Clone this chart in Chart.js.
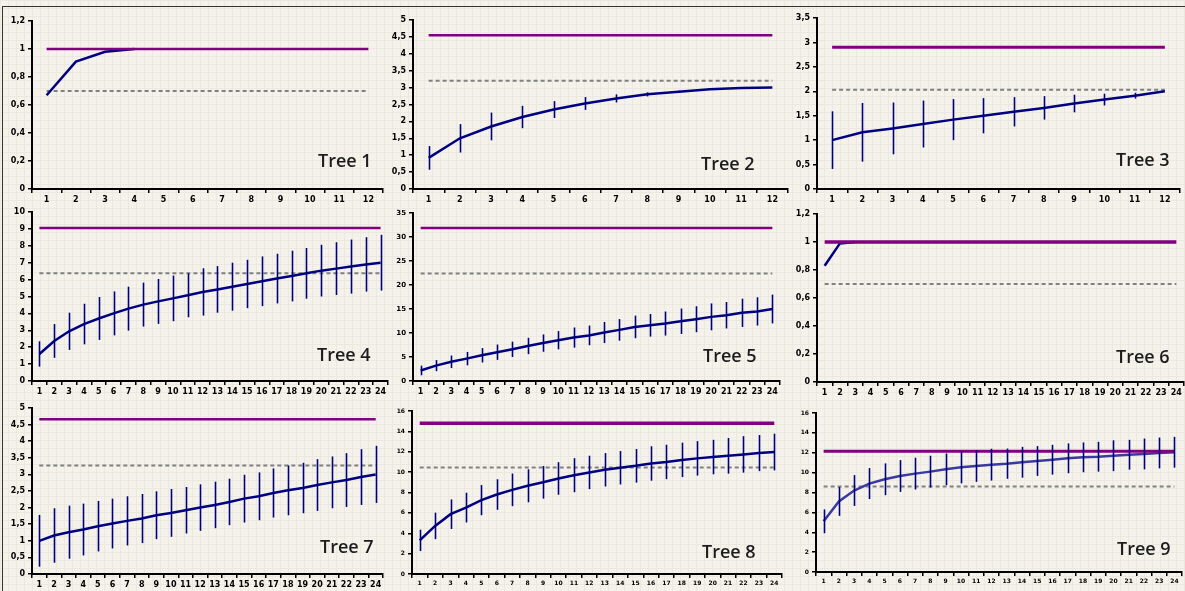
<!DOCTYPE html>
<html>
<head>
<meta charset="utf-8">
<script src="https://cdn.jsdelivr.net/npm/chart.js@4/dist/chart.umd.min.js"></script>
<style>
  html, body { margin: 0; padding: 0; }
  body {
    width: 1185px; height: 591px; position: relative; overflow: hidden;
    background-color: #f4f2eb;
    background-image:
      linear-gradient(#ebe8e0 1px, transparent 1px),
      linear-gradient(90deg, #ebe8e0 1px, transparent 1px);
    background-size: 8px 8px;
  }
  #frame { position: absolute; left: 2px; top: 6px; width: 1190px; height: 600px;
           border-top: 1px solid #333; border-left: 1px solid #333; }
  canvas { position: absolute; }
  .tree { position: absolute; font: 600 18px "Open Sans", sans-serif; line-height: 18px;
          color: #1c1c1c; white-space: nowrap; }
</style>
</head>
<body>
<div id="frame"></div>

<script>
// tick labels
const cats12 = ['1','2','3','4','5','6','7','8','9','10','11','12'];
const cats24 = ['1','2','3','4','5','6','7','8','9','10','11','12',
                '13','14','15','16','17','18','19','20','21','22','23','24'];

// mean curves (null = not drawn)
const tree1Mean = [0.67, 0.91, 0.98, 1.0, null, null, null, null, null, null, null, null];
const tree2Mean = [0.92, 1.5, 1.85, 2.13, 2.35, 2.53, 2.68, 2.8, 2.88, 2.95, 2.99, 3.0];
const tree3Mean = [1.0, 1.16, 1.24, 1.33, 1.42, 1.5, 1.58, 1.66, 1.75, 1.83, 1.91, 2.0];
const tree4Mean = [1.6, 2.37, 2.94, 3.37, 3.7, 4.0, 4.28, 4.52, 4.71, 4.89, 5.07, 5.27,
                   5.42, 5.58, 5.74, 5.9, 6.06, 6.21, 6.37, 6.53, 6.65, 6.77, 6.9, 7.0];
const tree5Mean = [2.2, 3.2, 4.0, 4.66, 5.36, 6.0, 6.6, 7.3, 7.9, 8.5, 9.05, 9.5,
                   10.1, 10.65, 11.27, 11.6, 11.97, 12.45, 12.87, 13.36, 13.7, 14.2, 14.5, 15.0];
const tree6Mean = [0.83, 0.99, 1.0, null, null, null, null, null, null, null, null, null,
                   null, null, null, null, null, null, null, null, null, null, null, null];
const tree7Mean = [1.0, 1.16, 1.26, 1.34, 1.44, 1.52, 1.6, 1.67, 1.77, 1.84, 1.92, 2.0,
                   2.08, 2.17, 2.27, 2.34, 2.44, 2.52, 2.59, 2.68, 2.76, 2.83, 2.92, 3.0];
const tree8Mean = [3.3, 4.72, 5.87, 6.52, 7.25, 7.8, 8.26, 8.66, 9.0, 9.38, 9.7, 9.97,
                   10.23, 10.43, 10.62, 10.85, 11.0, 11.2, 11.35, 11.48, 11.6, 11.74, 11.87, 11.97];
const tree9Mean = [5.1, 7.1, 8.2, 8.9, 9.33, 9.66, 9.9, 10.1, 10.33, 10.54, 10.67, 10.8,
                   10.9, 11.04, 11.17, 11.3, 11.44, 11.54, 11.6, 11.7, 11.8, 11.88, 11.98, 12.05];

// error bar half-lengths
const tree1Err = [];
const tree2Err = [0.35, 0.42, 0.41, 0.33, 0.25, 0.19, 0.12, 0.06, 0.03, 0, 0, 0];
const tree3Err = [0.59, 0.6, 0.53, 0.48, 0.42, 0.36, 0.3, 0.24, 0.18, 0.12, 0.06, 0];
const tree4Err = [0.75, 1.0, 1.1, 1.2, 1.27, 1.3, 1.3, 1.3, 1.33, 1.35, 1.3, 1.4,
                  1.38, 1.42, 1.43, 1.47, 1.47, 1.5, 1.5, 1.53, 1.56, 1.6, 1.61, 1.65];
const tree5Err = [1.0, 1.15, 1.3, 1.4, 1.5, 1.6, 1.6, 1.7, 1.8, 1.9, 2.1, 2.05,
                  2.2, 2.25, 2.35, 2.35, 2.5, 2.65, 2.7, 2.8, 2.75, 2.95, 2.95, 3.0];
const tree6Err = [];
const tree7Err = [0.78, 0.82, 0.8, 0.78, 0.76, 0.75, 0.74, 0.74, 0.72, 0.72, 0.7, 0.7,
                  0.7, 0.7, 0.72, 0.72, 0.74, 0.75, 0.76, 0.78, 0.78, 0.81, 0.84, 0.86];
const tree8Err = [1.05, 1.3, 1.45, 1.46, 1.48, 1.5, 1.6, 1.62, 1.6, 1.6, 1.67, 1.64,
                  1.64, 1.64, 1.65, 1.69, 1.69, 1.69, 1.69, 1.69, 1.75, 1.79, 1.77, 1.8];
const tree9Err = [1.2, 1.45, 1.55, 1.56, 1.6, 1.6, 1.6, 1.6, 1.6, 1.62, 1.6, 1.6,
                  1.52, 1.55, 1.5, 1.5, 1.5, 1.5, 1.5, 1.55, 1.5, 1.55, 1.55, 1.55];

// horizontal reference levels
const purpleLevel = [1.0, 4.55, 2.9, 9.05, 31.9, 1.0, 4.66, 14.8, 12.15];
const greyLevel   = [0.7, 3.2, 2.03, 6.38, 22.4, 0.7, 3.27, 10.45, 8.6];

// y axis ranges
const yMax  = [1.2, 5, 3.5, 10, 35, 1.2, 5, 16, 16];
const yStep = [0.2, 0.5, 0.5, 1, 5, 0.2, 0.5, 2, 2];

const means = [tree1Mean, tree2Mean, tree3Mean, tree4Mean, tree5Mean, tree6Mean, tree7Mean, tree8Mean, tree9Mean];
const errs  = [tree1Err, tree2Err, tree3Err, tree4Err, tree5Err, tree6Err, tree7Err, tree8Err, tree9Err];

// panel layout: axis x, top y, zero y, right x, label pos, fonts, styles
const panels = [
  { ax: 32,  top: 21,  bot: 189, right: 383,  cats: cats12, tx: 318,  ty: 151, fy: 8, fx: 8, pw: 2.5, lc: '#000080' },
  { ax: 413, top: 20,  bot: 189, right: 788,  cats: cats12, tx: 701,  ty: 154, fy: 8, fx: 8, pw: 2.5, lc: '#000080' },
  { ax: 817, top: 18,  bot: 189, right: 1180, cats: cats12, tx: 1116, ty: 150, fy: 8, fx: 8, pw: 3,   lc: '#000080' },
  { ax: 32,  top: 212, bot: 381, right: 388,  cats: cats24, tx: 317,  ty: 345, fy: 8, fx: 8, pw: 2.5, lc: '#000080' },
  { ax: 413, top: 213, bot: 381, right: 780,  cats: cats24, tx: 703,  ty: 346, fy: 7, fx: 8, pw: 2.5, lc: '#000080' },
  { ax: 817, top: 214, bot: 382, right: 1184, cats: cats24, tx: 1116, ty: 347, fy: 8, fx: 8, pw: 3.5, lc: '#000080' },
  { ax: 32,  top: 408, bot: 574, right: 383,  cats: cats24, tx: 320,  ty: 537, fy: 8, fx: 8, pw: 2.5, lc: '#000080' },
  { ax: 412, top: 411, bot: 574, right: 782,  cats: cats24, tx: 702,  ty: 542, fy: 6, fx: 6, pw: 3.5, lc: '#000080' },
  { ax: 816, top: 413, bot: 572, right: 1182, cats: cats24, tx: 1117, ty: 539, fy: 6, fx: 6, pw: 3,   lc: '#3a3aa0' }
];

const Y_W = 30, X_H = 20, PAD_T = 8, PAD_R = 3;

const errorBars = {
  id: 'errorBars',
  afterDatasetsDraw(chart, args, opts) {
    const xs = chart.scales.x, ys = chart.scales.y, ctx = chart.ctx;
    ctx.save();
    ctx.strokeStyle = opts.color;
    ctx.lineWidth = opts.width;
    opts.mean.forEach((m, i) => {
      const e = opts.err[i];
      if (m == null || !e) return;
      const x = Math.round(xs.getPixelForValue(i)) + 0.5;
      ctx.beginPath();
      ctx.moveTo(x, ys.getPixelForValue(m + e));
      ctx.lineTo(x, ys.getPixelForValue(m - e));
      ctx.stroke();
    });
    ctx.restore();
  }
};

function fmt(v) {
  return String(Math.round(v * 10) / 10).replace('.', ',');
}

panels.forEach((p, k) => {
  const cv = document.createElement('canvas');
  const w = Y_W + (p.right - p.ax) + PAD_R;
  const h = PAD_T + (p.bot - p.top) + X_H;
  cv.width = w; cv.height = h;
  cv.style.width = w + 'px'; cv.style.height = h + 'px';
  cv.style.left = (p.ax - Y_W) + 'px';
  cv.style.top = (p.top - PAD_T) + 'px';
  document.body.appendChild(cv);

  const n = p.cats.length;
  new Chart(cv, {
    type: 'line',
    data: {
      labels: p.cats,
      datasets: [
        { data: new Array(n).fill(purpleLevel[k]), borderColor: '#800080', borderWidth: p.pw,
          pointRadius: 0, order: 0 },
        { data: means[k], borderColor: p.lc, borderWidth: 2.5, pointRadius: 0, order: 1 },
        { data: new Array(n).fill(greyLevel[k]), borderColor: '#808080', borderWidth: 2,
          borderDash: [4, 3], pointRadius: 0, order: 2 }
      ]
    },
    options: {
      responsive: false,
      animation: false,
      devicePixelRatio: 1,
      layout: { padding: { top: PAD_T, right: PAD_R, left: 0, bottom: 0 } },
      plugins: {
        legend: { display: false },
        tooltip: { enabled: false },
        errorBars: { mean: means[k], err: errs[k], color: '#00007a', width: 1.6 }
      },
      scales: {
        x: {
          type: 'category',
          offset: true,
          afterFit: s => { s.height = X_H; },
          grid: { offset: true, drawOnChartArea: false, tickLength: 4, color: '#000', lineWidth: 1.5 },
          border: { color: '#000', width: 2 },
          ticks: { autoSkip: false, maxRotation: 0, padding: 2, color: '#000',
                   font: { family: 'DejaVu Sans', weight: 'bold', size: p.fx } }
        },
        y: {
          min: 0, max: yMax[k],
          afterFit: s => { s.width = Y_W; },
          grid: { drawOnChartArea: false, tickLength: 4, color: '#000', lineWidth: 1.5 },
          border: { color: '#000', width: 2 },
          ticks: { stepSize: yStep[k], autoSkip: false, padding: 3, color: '#000',
                   callback: v => fmt(v),
                   font: { family: 'DejaVu Sans', weight: 'bold', size: p.fy } }
        }
      }
    },
    plugins: [errorBars]
  });

  const lab = document.createElement('div');
  lab.className = 'tree';
  lab.style.left = p.tx + 'px';
  lab.style.top = p.ty + 'px';
  lab.textContent = 'Tree ' + (k + 1);
  document.body.appendChild(lab);
});
</script>
</body>
</html>
